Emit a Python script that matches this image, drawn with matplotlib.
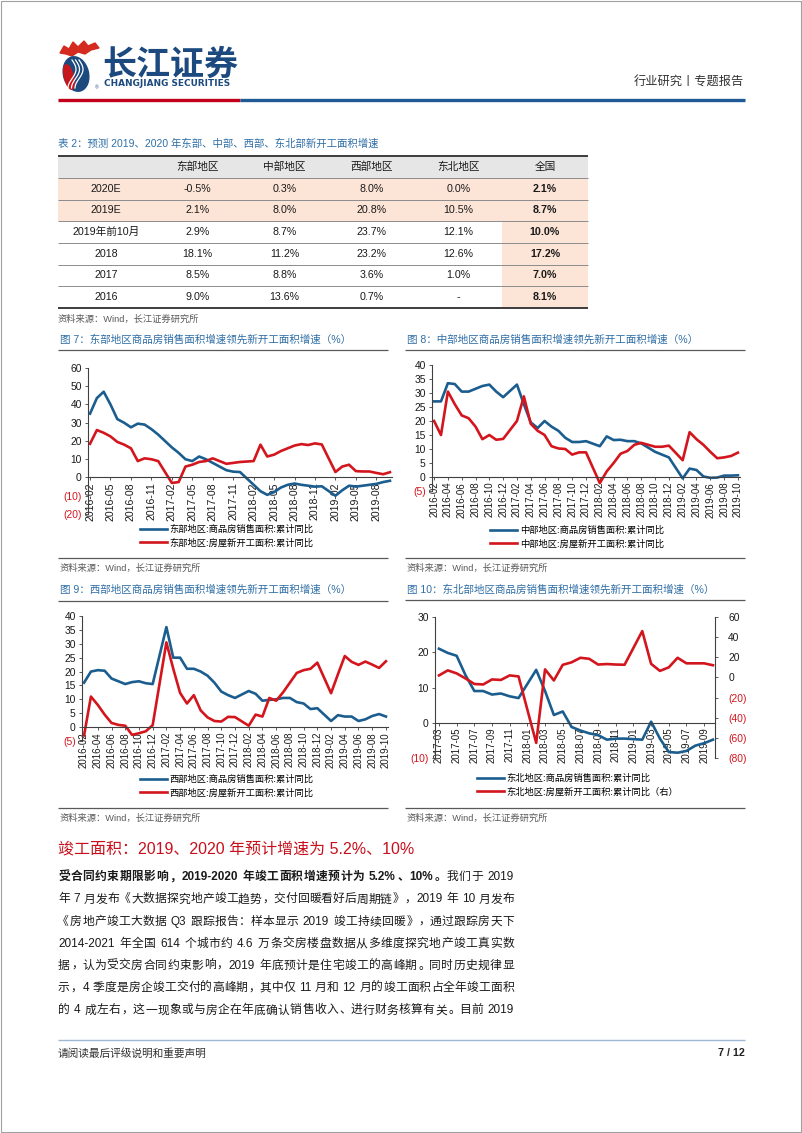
import re
import numpy as np
import pandas as pd
import matplotlib
matplotlib.use('Agg')
import matplotlib.pyplot as plt
from matplotlib.patches import Rectangle, Ellipse, Polygon

plt.rcParams['font.family'] = ['Liberation Sans', 'Noto Sans CJK SC']

# ---------------- data ----------------
# table 2
row_labels = ['2020E', '2019E', '2019年前10月', '2018', '2017', '2016']
col_labels = ['东部地区', '中部地区', '西部地区', '东北地区', '全国']
east_tbl = ['-0.5%', '2.1%', '2.9%', '18.1%', '8.5%', '9.0%']
central_tbl = ['0.3%', '8.0%', '8.7%', '11.2%', '8.8%', '13.6%']
west_tbl = ['8.0%', '20.8%', '23.7%', '23.2%', '3.6%', '0.7%']
ne_tbl = ['0.0%', '10.5%', '12.1%', '12.6%', '1.0%', '-']
nation_tbl = ['2.1%', '8.7%', '10.0%', '17.2%', '7.0%', '8.1%']


def months(start, end):
    # January is not published (Jan-Feb are reported together)
    return [p for p in pd.period_range(start, end, freq='M') if p.month != 1]


m16 = months('2016-02', '2019-10')
m17 = months('2017-03', '2019-10')

east_sales = [35, 43.5, 47, 40, 32, 30, 27.5, 29.5, 29, 26.5, 23.5,
              16.5, 13.5, 10, 9, 11.5, 10, 8, 6, 4, 3.2, 3,
              -4, -7.5, -9.5, -8, -5.5, -4, -3.3, -4, -4.5, -5, -4.8,
              -10, -7, -4.5, -5, -4.5, -4, -3.5, -2.5, -1.8]
east_starts = [18.5, 26, 24.5, 22.5, 19.5, 18, 16, 9, 10.5, 10, 9.0,
               -3, -2.5, 6, 7, 8.5, 9, 10.5, 9, 7.5, 8, 8.5,
               9, 18, 11.5, 12.5, 14.5, 16, 17.5, 18.3, 17.8, 18.7, 18.1,
               3, 6, 7, 3.5, 3.3, 3.3, 2.5, 1.8, 2.9]

central_sales = [27, 27, 33.5, 33.2, 30.5, 30.5, 31.5, 32.5, 33, 30.5, 28.5,
                 33, 26, 19.5, 17.5, 20, 18, 16.5, 14, 12.5, 12.5, 12.8,
                 11, 14.5, 13.2, 13.3, 12.8, 12.8, 12, 10.5, 9, 8, 7,
                 -0.5, 3, 2.5, 0.2, -0.3, -0.2, 0.5, 0.5, 0.6]
central_starts = [20, 15, 30.5, 26, 22, 21, 18, 13.5, 15, 13.3, 13.6,
                  20, 28.8, 19, 16.5, 15, 11, 10.2, 10, 8, 8.8, 8.8,
                  -2.2, 2, 5, 8.3, 9.3, 11.5, 12.2, 11.5, 10.8, 10.8, 11.2,
                  6, 16, 13.5, 11.5, 9, 6.7, 7, 7.5, 8.7]

west_sales = [16, 20, 20.5, 20.3, 17.5, 16.5, 15.5, 16.2, 16.5, 15.8, 15.5,
              36, 25, 25, 21, 21, 20, 18.5, 16, 12.8, 11.5, 10.5,
              13, 12, 9.5, 9.8, 10, 10.5, 10.5, 9, 8.5, 6.5, 6.8,
              2.2, 4.3, 3.8, 3.8, 2.2, 2.8, 4, 4.7, 3.8]
west_starts = [-3, 11, 8, 4.5, 1.5, 0.8, 0.5, -2.8, -2.2, -1.5, 0.7,
               30.5, 21, 12.3, 8.5, 11.5, 6, 3.5, 2.2, 2, 3.7, 3.6,
               0.5, 4.5, 3.8, 10.5, 9.5, 12.5, 16, 19.5, 20.5, 21, 23.2,
               12.2, 19, 25.6, 23.5, 22.4, 23.6, 22.5, 21.3, 23.7]

ne_sales = [21, 19.8, 19, 13.5, 9, 9, 8, 8.3, 7.5, 7,
            15, 9, 2.2, 3.2, -1.2, -2.2, -3, -3.5, -4.8, -4.5, -4.5,
            -4.8, 0.3, -4.5, -8.3, -8.5, -8, -6.5, -5.8, -4.8]
ne_starts = [2, 7, 4, -1, -6.5, -7, -2, -2.5, 2, 1.0,
             -65, 8, -3, 12.5, 15, 19.5, 18.5, 12.8, 13.3, 12.8, 12.6,
             46, 13.5, 6.5, 10, 19.5, 14, 14, 14, 12.1]

ticks7 = list(pd.period_range('2016-02', '2019-10', freq='M'))[::3]
ticks8 = list(pd.period_range('2016-02', '2019-10', freq='M'))[::2]
ticks10 = list(pd.period_range('2017-03', '2019-10', freq='M'))[::2]

# ---------------- styles ----------------
W, H = 802, 1133
BLUE = '#1b5d8e'
RED = '#d3151d'
TBLUE = '#2f6ea6'
NAVY = '#1c4a7e'
INK = '#1a1a1a'
AXC = '#404040'

fig = plt.figure(figsize=(W / 100, H / 100), dpi=100)
page = fig.add_axes([0, 0, 1, 1], zorder=0)
page.set_xlim(0, W)
page.set_ylim(H, 0)
page.axis('off')
renderer = fig.canvas.get_renderer()


def box(x0, y0, x1, y1):
    return [x0 / W, 1 - y1 / H, (x1 - x0) / W, (y1 - y0) / H]


def hline(x0, x1, y, color, lw):
    page.plot([x0, x1], [y, y], color=color, lw=lw, solid_capstyle='butt')


def month_x(periods):
    return [(p.year - 2016) * 12 + p.month - 1 for p in periods]


def paren(v):
    return f'({-v})' if v < 0 else f'{v}'


# ---------------- header ----------------
page.add_patch(Rectangle((0.5, 0.5), W - 1.5, H - 1.5, fill=False, ec='#a0a0a0', lw=0.8))
page.add_patch(Polygon([(60, 53), (64, 46), (69, 49), (73, 42), (78, 47), (84, 41),
                        (88, 46), (95, 43), (99, 48), (91, 50), (85, 54), (78, 52),
                        (72, 56), (66, 54)], closed=True, color='#d42a20'))
page.add_patch(Ellipse((76, 74), 25, 35, angle=-14, color=NAVY))
page.add_patch(Ellipse((69, 77), 9, 25, angle=-14, color='#c8161d'))
t = np.linspace(0, 1, 30)
for dx in (0, 3.5, 7):
    page.plot(72 + dx + 4 * np.sin(t * np.pi * 1.5), 60 + 28 * t, color='white', lw=0.9)
page.text(97, 88, '®', fontsize=3.5, color=NAVY, ha='center', va='center')
page.text(102, 64, '长江证券', fontsize=24.5, fontweight='bold', color=NAVY,
          family='Noto Sans CJK SC', ha='left', va='center')
page.text(104, 84, 'CHANGJIANG SECURITIES', fontsize=6.4, fontweight='bold', color=NAVY,
          family='DejaVu Sans', ha='left', va='center')
page.text(744, 83, '行业研究丨专题报告', fontsize=8.8, color='#333333', ha='right', va='center')
hline(58, 240, 99.5, '#c3001b', 2.4)
hline(240, 745, 99.5, '#1f5a96', 2.4)

# ---------------- table 2 ----------------
page.text(58, 144, '表 2：预测 2019、2020 年东部、中部、西部、东北部新开工面积增速',
          fontsize=7.5, color=TBLUE, ha='left', va='center')
edges = [58, 154, 241, 328, 415, 502, 588]
rows_y = [156, 178, 199.5, 221, 243, 264.5, 286, 308]
page.add_patch(Rectangle((58, 156), 530, 22, color='#e7e6e6', lw=0))
page.add_patch(Rectangle((58, 178), 530, 43, color='#fce4d6', lw=0))
page.add_patch(Rectangle((502, 221), 86, 87, color='#fce4d6', lw=0))
for y in rows_y[1:-1]:
    hline(58, 588, y, '#8c8c8c', 0.7)
hline(58, 588, rows_y[0], '#3c3c3c', 1.4)
hline(58, 588, rows_y[-1], '#3c3c3c', 1.4)
centers = [(a + b) / 2 for a, b in zip(edges[:-1], edges[1:])]
for c, lab in zip(centers[1:], col_labels):
    page.text(c, 167, lab, fontsize=7.7, color=INK, ha='center', va='center', fontweight='medium')
columns = [east_tbl, central_tbl, west_tbl, ne_tbl, nation_tbl]
for i, lab in enumerate(row_labels):
    yc = (rows_y[i + 1] + rows_y[i + 2]) / 2
    page.text(centers[0], yc, lab, fontsize=7.7, color=INK, ha='center', va='center')
    for j, col in enumerate(columns):
        page.text(centers[j + 1], yc, col[i], fontsize=7.7, color=INK, ha='center', va='center',
                  fontweight='bold' if j == 4 else 'normal')
page.text(58, 319, '资料来源：Wind，长江证券研究所', fontsize=6.7, color='#595959', ha='left', va='center')


# ---------------- charts ----------------
def style_ax(ax, ylim, yticks, tick_periods, xsize=7.0):
    ax.set_facecolor('none')
    ax.set_ylim(*ylim)
    ax.set_yticks(yticks, [paren(v) for v in yticks])
    ax.set_xticks(month_x(tick_periods), [p.strftime('%Y-%m') for p in tick_periods])
    for s in ('top', 'right'):
        ax.spines[s].set_visible(False)
    ax.spines['bottom'].set_position(('data', 0))
    for s in ('left', 'bottom'):
        ax.spines[s].set_color(AXC)
        ax.spines[s].set_linewidth(0.8)
    ax.tick_params(axis='x', length=2.5, width=0.6, pad=1, labelsize=xsize, colors=AXC,
                   labelcolor=INK, labelrotation=90)
    ax.tick_params(axis='y', length=2.5, width=0.6, pad=2, labelsize=7.4, colors=AXC)
    for lab, v in zip(ax.get_yticklabels(), yticks):
        lab.set_color(RED if v < 0 else INK)


def frame(x0, x1, title, y_title, y_line, y_bottom):
    page.text(x0 + 2, y_title, title, fontsize=7.6, color=TBLUE, ha='left', va='center')
    hline(x0, x1, y_line, '#595959', 0.9)
    hline(x0, x1, y_bottom, '#595959', 0.9)
    page.text(x0 + 2, y_bottom + 10, '资料来源：Wind，长江证券研究所', fontsize=6.7,
              color='#595959', ha='left', va='center')


def add_legend(ax, handles, lx, ly):
    ax.legend(handles=handles, loc='upper left', bbox_to_anchor=(lx / W, 1 - ly / H),
              bbox_transform=fig.transFigure, frameon=False, fontsize=6.7,
              handlelength=2.9, handletextpad=0.3, labelspacing=0.4,
              borderpad=0, borderaxespad=0)


def simple_chart(rect, periods, sales, starts, names, ylim, yticks, tick_periods, legend_at, xsize):
    ax = fig.add_axes(box(*rect), zorder=2)
    x = month_x(periods)
    h1, = ax.plot(x, sales, color=BLUE, lw=1.9, label=names[0])
    h2, = ax.plot(x, starts, color=RED, lw=1.9, label=names[1])
    ax.set_xlim(x[0] - 0.3, x[-1] + 0.3)
    style_ax(ax, ylim, yticks, tick_periods, xsize)
    add_legend(ax, [h1, h2], *legend_at)
    return ax


frame(58, 388, '图 7：东部地区商品房销售面积增速领先新开工面积增速（%）', 340, 350, 558)
simple_chart((88, 368, 392, 514), m16, east_sales, east_starts,
             ['东部地区:商品房销售面积:累计同比', '东部地区:房屋新开工面积:累计同比'],
             (-20, 60), list(range(-20, 61, 10)), ticks7, (140, 525), 7.6)

frame(405, 745, '图 8：中部地区商品房销售面积增速领先新开工面积增速（%）', 340, 350, 558)
simple_chart((432, 365, 740, 491), m16, central_sales, central_starts,
             ['中部地区:商品房销售面积:累计同比', '中部地区:房屋新开工面积:累计同比'],
             (-5, 40), list(range(-5, 41, 5)), ticks8, (490, 526), 7.0)

frame(58, 388, '图 9：西部地区商品房销售面积增速领先新开工面积增速（%）', 590, 601, 808)
simple_chart((82, 616, 388, 741), m16, west_sales, west_starts,
             ['西部地区:商品房销售面积:累计同比', '西部地区:房屋新开工面积:累计同比'],
             (-5, 40), list(range(-5, 41, 5)), ticks8, (140, 775), 7.0)

frame(405, 745, '图 10：东北部地区商品房销售面积增速领先新开工面积增速（%）', 590, 600, 808)
ax10 = fig.add_axes(box(435, 617, 715, 758), zorder=2)
x10 = month_x(m17)
b1, = ax10.plot(x10, ne_sales, color=BLUE, lw=1.9, label='东北地区:商品房销售面积:累计同比')
ax10.set_xlim(x10[0] - 0.45, x10[-1] + 0.23)
style_ax(ax10, (-10, 30), [-10, 0, 10, 20, 30], ticks10, 7.0)
ax10r = ax10.twinx()
r1, = ax10r.plot(x10, ne_starts, color=RED, lw=1.9, label='东北地区:房屋新开工面积:累计同比（右）')
right_ticks = list(range(-80, 61, 20))
ax10r.set_ylim(-80, 60)
ax10r.set_yticks(right_ticks, [paren(v) for v in right_ticks])
for s in ('top', 'left', 'bottom'):
    ax10r.spines[s].set_visible(False)
ax10r.spines['right'].set_color(AXC)
ax10r.spines['right'].set_linewidth(0.8)
ax10r.tick_params(axis='y', length=2.5, width=0.6, pad=7, labelsize=7.4, colors=AXC)
for lab, v in zip(ax10r.get_yticklabels(), right_ticks):
    lab.set_color(RED if v < 0 else INK)
add_legend(ax10r, [b1, r1], 477, 774)

# ---------------- section text ----------------
page.text(58, 849, '竣工面积：2019、2020 年预计增速为 5.2%、10%', fontsize=11.5,
          color='#c8101c', ha='left', va='center')

LEFT_P = set('，。、：；》）”')
RIGHT_P = set('《（“')


def justify_line(yc, segments, x0=58, x1=514, size=8.5):
    em = size * 100 / 72
    base = yc + 0.36 * em
    items = []
    for txt, weight in segments:
        for tok in re.findall(r'[A-Za-z0-9.%\-]+| |.', txt):
            if tok == ' ':
                items.append([None, 0.25 * em, 'space'])
                continue
            if tok.isascii():
                kind, ha = 'ascii', 'left'
            elif tok in LEFT_P:
                kind, ha = 'lp', 'left'
            elif tok in RIGHT_P:
                kind, ha = 'rp', 'right'
            else:
                kind, ha = 'cjk', 'center'
            tx = page.text(0, base, tok, fontsize=size, fontweight=weight, color=INK,
                           ha=ha, va='baseline')
            w = tx.get_window_extent(renderer).width + 0.1 * em if kind == 'ascii' else em
            items.append([tx, w, kind])
    gap = (x1 - x0 - sum(it[1] for it in items)) / (len(items) - 1)
    x = x0
    for tx, w, kind in items:
        if kind == 'ascii':
            tx.set_x(x + 0.05 * em)
        elif kind == 'lp':
            tx.set_x(x + 0.08 * em)
        elif kind == 'rp':
            tx.set_x(x + 0.92 * em)
        elif kind == 'cjk':
            tx.set_x(x + em / 2)
        x += w + gap


body = [
    [('受合同约束期限影响，2019-2020 年竣工面积增速预计为 5.2%、10%。', 'bold'), ('我们于 2019', 'normal')],
    [('年 7 月发布《大数据探究地产竣工趋势，交付回暖看好后周期链》，2019 年 10 月发布', 'normal')],
    [('《房地产竣工大数据 Q3 跟踪报告：样本显示 2019 竣工持续回暖》，通过跟踪房天下', 'normal')],
    [('2014-2021 年全国 614 个城市约 4.6 万条交房楼盘数据从多维度探究地产竣工真实数', 'normal')],
    [('据，认为受交房合同约束影响，2019 年底预计是住宅竣工的高峰期。同时历史规律显', 'normal')],
    [('示，4 季度是房企竣工交付的高峰期，其中仅 11 月和 12 月的竣工面积占全年竣工面积', 'normal')],
    [('的 4 成左右，这一现象或与房企在年底确认销售收入、进行财务核算有关。目前 2019', 'normal')],
]
for k, segs in enumerate(body):
    justify_line(876 + 22.2 * k, segs)

# ---------------- footer ----------------
hline(58, 745, 1040, '#9db8d2', 1.0)
page.text(58, 1053, '请阅读最后评级说明和重要声明', fontsize=7.7, color='#333333', ha='left', va='center')
page.text(745, 1053, '7 / 12', fontsize=7.7, fontweight='bold', color='#222222', ha='right', va='center')

fig.savefig('out.png', dpi=100)
